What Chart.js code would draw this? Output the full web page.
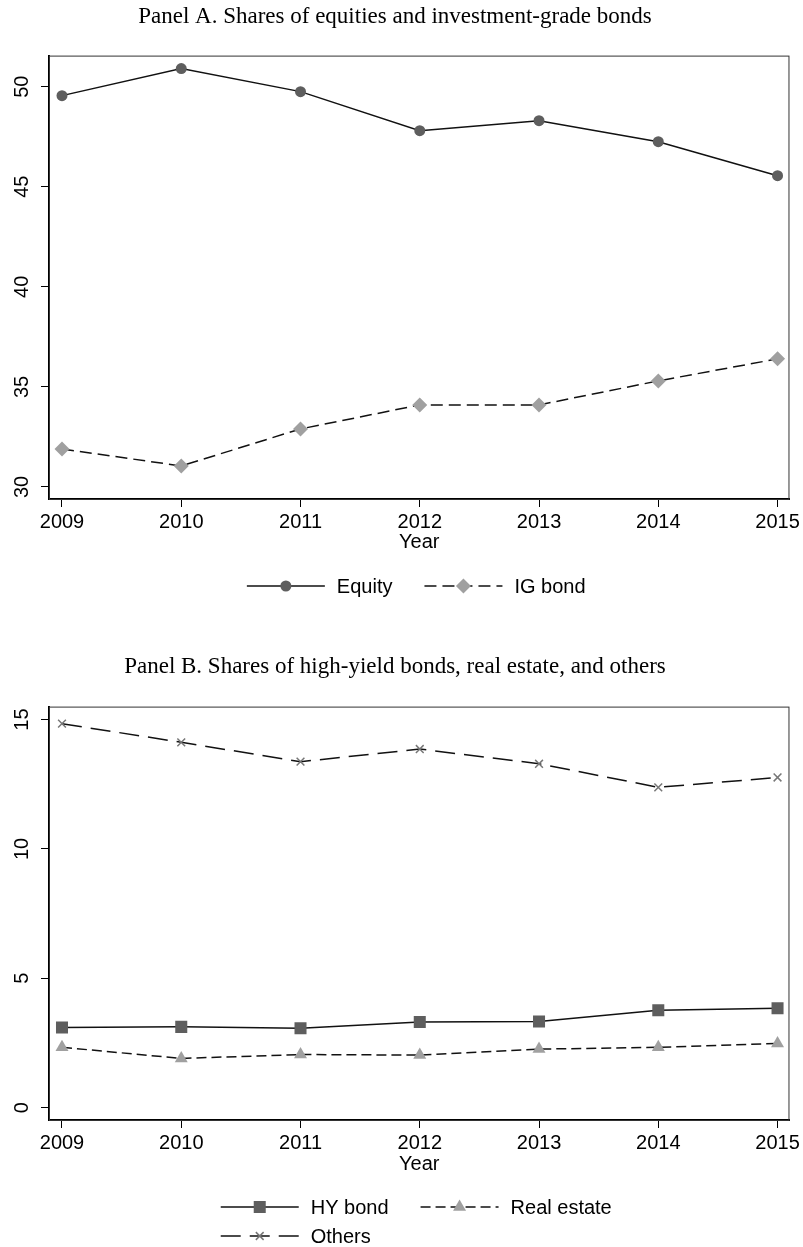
<!DOCTYPE html>
<html>
<head>
<meta charset="utf-8">
<script src="https://cdn.jsdelivr.net/npm/chart.js@4.4.1/dist/chart.umd.min.js"></script>
<style>
  html, body { margin: 0; padding: 0; background: #fff; }
  #wrap { position: relative; width: 803px; height: 1247px; }
  .panel { position: absolute; left: 0; width: 803px; }
  #panelA { top: 0; height: 620px; }
  #panelB { top: 620px; height: 627px; }
</style>
</head>
<body>
<div id="wrap">
  <div class="panel" id="panelA"><canvas id="chartA"></canvas></div>
  <div class="panel" id="panelB"><canvas id="chartB"></canvas></div>
</div>
<script>
// ======= Data =======
const years = [2009, 2010, 2011, 2012, 2013, 2014, 2015];

const equityShare = [49.55, 50.9, 49.75, 47.8, 48.3, 47.25, 45.55];
const igBondShare = [31.9, 31.05, 32.9, 34.1, 34.1, 35.3, 36.4];

const hyBondShare = [3.10, 3.12, 3.07, 3.31, 3.33, 3.76, 3.84];
const realEstateShare = [2.33, 1.90, 2.05, 2.03, 2.26, 2.33, 2.48];
const othersShare = [14.84, 14.12, 13.37, 13.86, 13.29, 12.38, 12.76];

const yTicksA = [30, 35, 40, 45, 50];
const yTicksB = [0, 5, 10, 15];

// ======= Look =======
const SANS = "'Liberation Sans', Arial, Helvetica, sans-serif";
const SERIF = "'Liberation Serif', 'Times New Roman', serif";
const DARK = "#5e5e5e";
const LIGHT = "#a0a0a0";
const LINE = "#111";

const points = (vals) => vals.map((v, i) => ({ x: years[i], y: v }));

function series(label, vals, opts) {
  return Object.assign({
    label,
    data: points(vals),
    borderColor: LINE,
    borderWidth: 1.5,
    pointBorderWidth: 0,
    tension: 0
  }, opts);
}

// frame: thin top/right lines round the plot area
const framePlugin = {
  id: "frame",
  beforeDatasetsDraw(chart) {
    const { ctx, chartArea: a } = chart;
    ctx.save();
    ctx.strokeStyle = "#333";
    ctx.lineWidth = 1;
    ctx.strokeRect(a.left + 0.5, a.top + 0.5, a.right - a.left - 1, a.bottom - a.top);
    ctx.restore();
  }
};

// Stata-like legend: line segment with the marker in the middle
const keyPlugin = {
  id: "keyLegend",
  afterDraw(chart, args, opts) {
    const { ctx, chartArea: a } = chart;
    const rows = opts.rows || [];
    const lineLen = 78, gap = 12, colGap = 32, rowH = 29;
    ctx.save();
    ctx.font = "20px " + SANS;
    const nCols = Math.max(...rows.map((r) => r.length));
    const colW = [];
    for (let c = 0; c < nCols; c++) {
      let w = 0;
      rows.forEach((r) => { if (r[c]) w = Math.max(w, ctx.measureText(r[c].label).width); });
      colW.push(lineLen + gap + w);
    }
    const total = colW.reduce((s, w) => s + w, 0) + colGap * (nCols - 1);
    const startX = (a.left + a.right) / 2 - total / 2 - 3;

    rows.forEach((r, ri) => {
      const y = a.bottom + opts.offset + ri * rowH;
      let x = startX;
      r.forEach((it, ci) => {
        const ds = chart.data.datasets[it.index];
        ctx.strokeStyle = LINE;
        ctx.lineWidth = 1.5;
        ctx.setLineDash(ds.borderDash || []);
        ctx.beginPath();
        ctx.moveTo(x, y);
        ctx.lineTo(x + lineLen, y);
        ctx.stroke();
        ctx.setLineDash([]);
        ctx.fillStyle = ds.pointBackgroundColor;
        ctx.strokeStyle = ds.pointBorderColor || ds.pointBackgroundColor;
        Chart.helpers.drawPoint(ctx, {
          pointStyle: ds.pointStyle,
          radius: ds.pointRadius,
          borderWidth: ds.pointBorderWidth,
          rotation: 0
        }, x + lineLen / 2, y);
        ctx.fillStyle = "#000";
        ctx.textAlign = "left";
        ctx.textBaseline = "middle";
        ctx.fillText(it.label, x + lineLen + gap, y + 1);
        x += colW[ci] + colGap;
      });
    });
    ctx.restore();
  }
};

function makePanel(canvasId, cfg) {
  return new Chart(document.getElementById(canvasId), {
    type: "line",
    data: { datasets: cfg.datasets },
    plugins: [framePlugin, keyPlugin],
    options: {
      responsive: true,
      maintainAspectRatio: false,
      animation: false,
      layout: { padding: { left: 0, right: 13, top: 0, bottom: 0 } },
      plugins: {
        legend: { display: false },
        tooltip: { enabled: false },
        title: {
          display: true,
          text: cfg.title,
          color: "#000",
          font: { family: SERIF, size: 23, weight: "normal", lineHeight: 1.2 },
          padding: cfg.titlePad
        },
        keyLegend: { rows: cfg.legendRows, offset: 87 }
      },
      scales: {
        x: {
          type: "linear",
          min: 2008.891,
          max: 2015.1,
          bounds: "data",
          afterBuildTicks: (s) => { s.ticks = years.map((v) => ({ value: v })); },
          afterFit: (s) => { s.height = cfg.xHeight; },
          border: { display: true, color: "#000", width: 2 },
          grid: { drawOnChartArea: false, drawTicks: true, tickLength: 8, tickColor: "#000", tickWidth: 1 },
          ticks: {
            color: "#000",
            font: { family: SANS, size: 20 },
            padding: 3,
            minRotation: 0,
            maxRotation: 0,
            callback: (v) => String(v)
          },
          title: {
            display: true,
            text: "Year",
            color: "#000",
            font: { family: SANS, size: 20, lineHeight: 1.2 },
            padding: { top: 0, bottom: cfg.yearPad }
          }
        },
        y: {
          type: "linear",
          min: cfg.yMin,
          max: cfg.yMax,
          bounds: "data",
          afterBuildTicks: (s) => { s.ticks = cfg.yTicks.map((v) => ({ value: v })); },
          afterFit: (s) => { s.width = 49; },
          border: { display: true, color: "#000", width: 2 },
          grid: { drawOnChartArea: false, drawTicks: true, tickLength: 8, tickColor: "#000", tickWidth: 1 },
          ticks: {
            color: "#000",
            font: { family: SANS, size: 20 },
            padding: 7,
            minRotation: 90,
            maxRotation: 90,
            crossAlign: "center",
            callback: (v) => String(v)
          }
        }
      }
    }
  });
}

// ======= Panel A =======
makePanel("chartA", {
  title: "Panel A. Shares of equities and investment-grade bonds",
  titlePad: { top: 3, bottom: 25 },
  xHeight: 121,
  yearPad: 66,
  yMin: 29.4,
  yMax: 51.55,
  yTicks: yTicksA,
  datasets: [
    series("Equity", equityShare, {
      pointStyle: "circle", pointRadius: 5.5,
      pointBackgroundColor: DARK, pointBorderColor: DARK
    }),
    series("IG bond", igBondShare, {
      borderDash: [12, 6],
      pointStyle: "rectRot", pointRadius: 7.5,
      pointBackgroundColor: LIGHT, pointBorderColor: LIGHT
    })
  ],
  legendRows: [[{ index: 0, label: "Equity" }, { index: 1, label: "IG bond" }]]
});

// ======= Panel B =======
makePanel("chartB", {
  title: "Panel B. Shares of high-yield bonds, real estate, and others",
  titlePad: { top: 33, bottom: 26 },
  xHeight: 127,
  yearPad: 71,
  yMin: -0.48,
  yMax: 15.5,
  yTicks: yTicksB,
  datasets: [
    series("HY bond", hyBondShare, {
      pointStyle: "rect", pointRadius: 8.5,
      pointBackgroundColor: DARK, pointBorderColor: DARK
    }),
    series("Real estate", realEstateShare, {
      borderDash: [10, 5],
      pointStyle: "triangle", pointRadius: 7.5,
      pointBackgroundColor: LIGHT, pointBorderColor: LIGHT
    }),
    series("Others", othersShare, {
      borderDash: [20, 9],
      pointStyle: "crossRot", pointRadius: 5.5, pointBorderWidth: 1.5,
      pointBackgroundColor: "#777", pointBorderColor: "#777"
    })
  ],
  legendRows: [
    [{ index: 0, label: "HY bond" }, { index: 1, label: "Real estate" }],
    [{ index: 2, label: "Others" }]
  ]
});
</script>
</body>
</html>
